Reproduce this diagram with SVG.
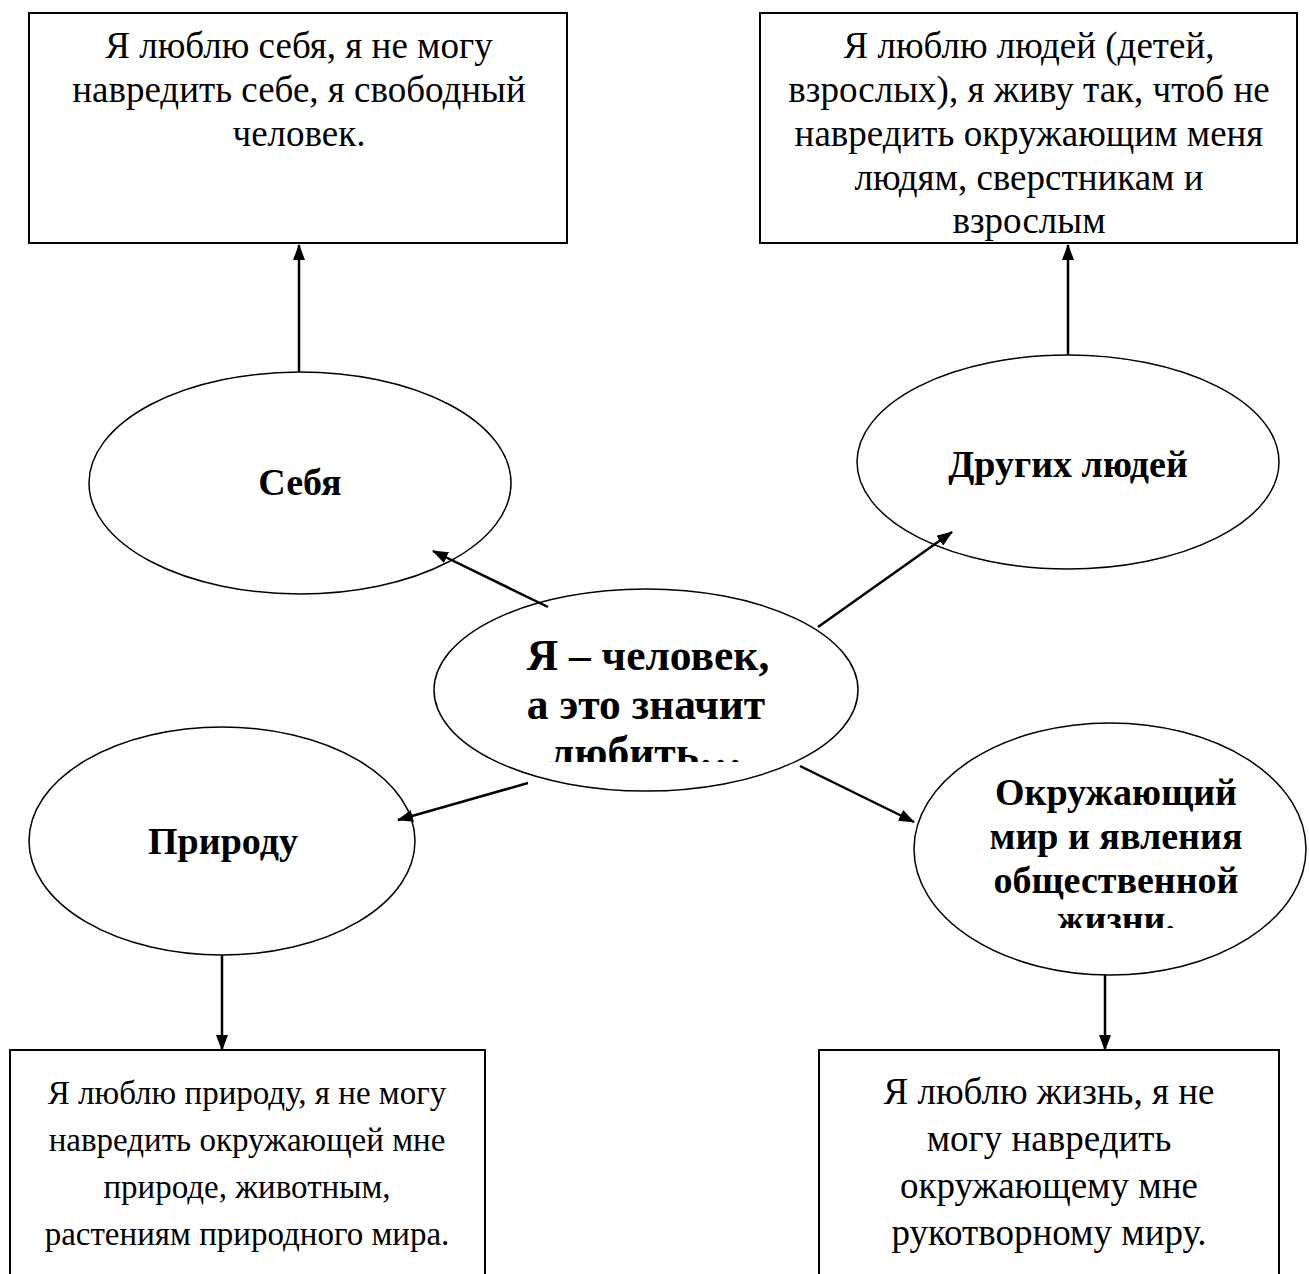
<svg xmlns="http://www.w3.org/2000/svg" width="1309" height="1274" viewBox="0 0 1309 1274">
<style>
.box{fill:#fff;stroke:#000;stroke-width:2}
.ell{fill:#fff;stroke:#000;stroke-width:1.5}
.t{font-family:"Liberation Serif","Times New Roman",serif;font-size:37px;text-anchor:middle;fill:#000}
.s{font-size:33px}
.b{font-family:"Liberation Serif","Times New Roman",serif;font-size:38px;font-weight:bold;text-anchor:middle;fill:#000}
.bc{font-size:43.5px}
.c{stroke:#000;stroke-width:2.5;fill:none;marker-end:url(#ah)}
</style>
<defs>
<marker id="ah" markerWidth="16" markerHeight="12" refX="15" refY="6" orient="auto" markerUnits="userSpaceOnUse">
<path d="M0,0 L16,6 L0,12 Z" fill="#000"/>
</marker>
<clipPath id="clipC"><rect x="430" y="600" width="430" height="162"/></clipPath>
<clipPath id="clipR"><rect x="910" y="740" width="400" height="188"/></clipPath>
</defs>
<rect width="1309" height="1274" fill="#fff"/>
<g id="box-self">
<rect class="box" x="29" y="13" width="538" height="230"/>
<text class="t" x="299" y="58">Я люблю себя, я не могу</text>
<text class="t" x="299" y="102">навредить себе, я свободный</text>
<text class="t" x="299" y="146">человек.</text>
</g>
<g id="box-people">
<rect class="box" x="760" y="13" width="537" height="230"/>
<text class="t" x="1029" y="58">Я люблю людей (детей,</text>
<text class="t" x="1029" y="102">взрослых), я живу так, чтоб не</text>
<text class="t" x="1029" y="146">навредить окружающим меня</text>
<text class="t" x="1029" y="190">людям, сверстникам и</text>
<text class="t" x="1029" y="233">взрослым</text>
</g>
<g id="ell-self">
<ellipse class="ell" cx="300" cy="483" rx="211" ry="111"/>
<text class="b" x="300" y="495">Себя</text>
</g>
<g id="ell-people">
<ellipse class="ell" cx="1068" cy="462" rx="211" ry="107"/>
<text class="b" x="1068" y="477">Других людей</text>
</g>
<g id="ell-center">
<ellipse class="ell" cx="646" cy="690" rx="212" ry="101"/>
<g clip-path="url(#clipC)">
<text class="b bc" x="648" y="670">Я – человек,</text>
<text class="b bc" x="646" y="719">а это значит</text>
<text class="b bc" x="646" y="767">любить…</text>
</g>
</g>
<g id="ell-nature">
<ellipse class="ell" cx="222" cy="841" rx="193" ry="114"/>
<text class="b" x="223" y="854">Природу</text>
</g>
<g id="ell-world">
<ellipse class="ell" cx="1110" cy="849" rx="196" ry="126"/>
<g clip-path="url(#clipR)">
<text class="b" x="1116" y="805">Окружающий</text>
<text class="b" x="1116" y="849">мир и явления</text>
<text class="b" x="1116" y="893">общественной</text>
<text class="b" x="1116" y="932">жизни.</text>
</g>
</g>
<g id="box-nature">
<rect class="box" x="10" y="1050" width="475" height="240"/>
<text class="t s" x="247" y="1104">Я люблю природу, я не могу</text>
<text class="t s" x="247" y="1151">навредить окружающей мне</text>
<text class="t s" x="247" y="1198">природе, животным,</text>
<text class="t s" x="247" y="1245">растениям природного мира.</text>
</g>
<g id="box-world">
<rect class="box" x="819" y="1050" width="460" height="240"/>
<text class="t" x="1049" y="1104">Я люблю жизнь, я не</text>
<text class="t" x="1049" y="1151">могу навредить</text>
<text class="t" x="1049" y="1198">окружающему мне</text>
<text class="t" x="1049" y="1245">рукотворному миру.</text>
</g>
<g id="connectors">
<line class="c" x1="299" y1="372" x2="299" y2="245"/>
<line class="c" x1="1068" y1="355" x2="1068" y2="245"/>
<line class="c" x1="548" y1="607" x2="433" y2="551"/>
<line class="c" x1="818" y1="627" x2="952" y2="532"/>
<line class="c" x1="528" y1="783" x2="398" y2="820"/>
<line class="c" x1="800" y1="766" x2="914" y2="822"/>
<line class="c" x1="222" y1="955" x2="222" y2="1050"/>
<line class="c" x1="1105" y1="975" x2="1105" y2="1050"/>
</g>
</svg>
